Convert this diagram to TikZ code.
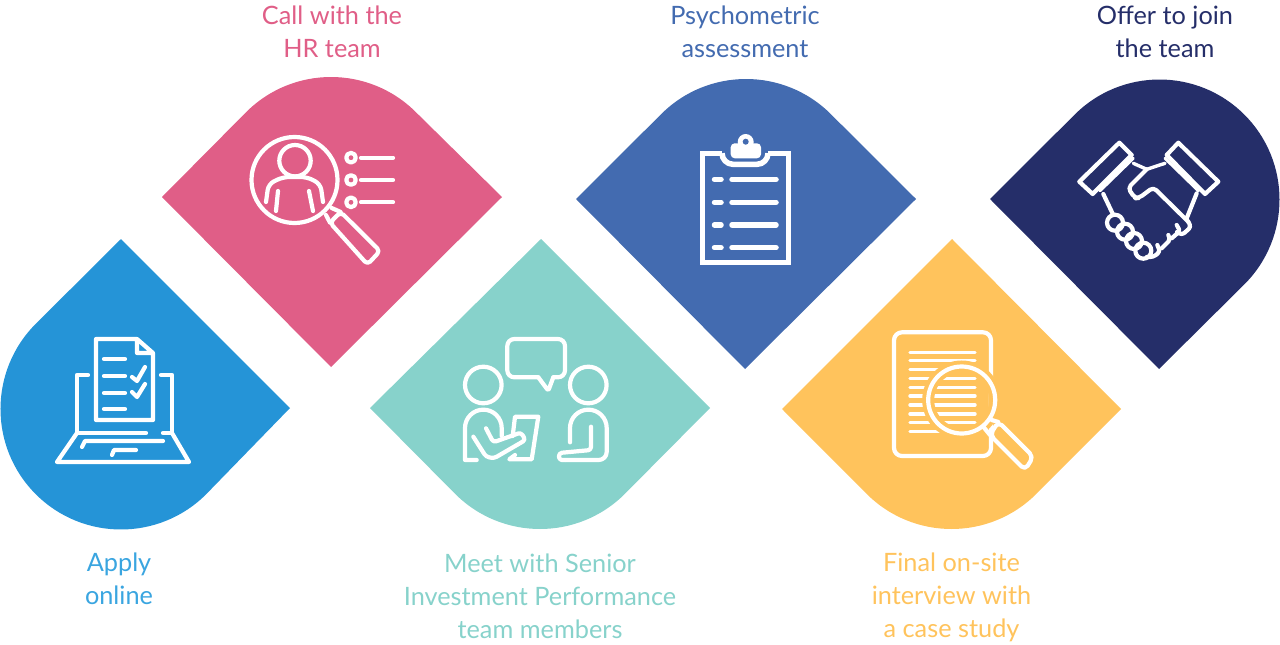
\documentclass[tikz,border=0pt]{standalone}
\usepackage{fontspec}
\setmainfont{Lato}
\definecolor{applyblue}{HTML}{2594D7}
\definecolor{applytext}{HTML}{3AA5E0}
\definecolor{callpink}{HTML}{E05E87}
\definecolor{meetteal}{HTML}{87D2CB}
\definecolor{psychblue}{HTML}{436BB0}
\definecolor{finalyellow}{HTML}{FFC35C}
\definecolor{offernavy}{HTML}{252E69}
\tikzset{
  steplabel/.style={align=center,font=\fontsize{25.3}{33}\selectfont},
  iconline/.style={draw=white,line width=4.2pt,line cap=round,line join=round},
}

\begin{document}
\begin{tikzpicture}[x=1pt,y=1pt]
\useasboundingbox (0,0) rectangle (1280,-645);
\fill[applyblue] (121,-239) -- (290,-408) -- (206.2,-494.2) arc (-45:-225:120.5) -- cycle;
\fill[callpink] (162,-197) -- (246.15,-112.15) arc (135:45:120) -- (502,-197) -- (331,-367) -- cycle;
\fill[meetteal] (370,-408) -- (541,-239) -- (710,-408) -- (624.85,-493.85) arc (-45:-135:120) -- cycle;
\fill[psychblue] (576,-199) -- (661.15,-114.15) arc (135:45:120) -- (916,-199) -- (745,-369) -- cycle;
\fill[finalyellow] (782,-409) -- (952,-239) -- (1121,-409) -- (1036.35,-493.85) arc (-45:-135:120) -- cycle;
\fill[offernavy] (990,-199) -- (1074.65,-114.65) arc (135:-45:120) -- (1159,-369) -- cycle;

\node[steplabel,text=applytext] (apply) at (119,-579) {Apply\\online};
\node[steplabel,text=callpink] (call) at (332,-32) {Call with the\\HR team};
\node[steplabel,text=meetteal] (meet) at (540,-596) {Meet with Senior\\Investment Performance\\team members};
\node[steplabel,text=psychblue] (psych) at (745,-32) {Psychometric\\assessment};
\node[steplabel,text=finalyellow] (final) at (951.5,-597) {Final on-site\\interview with\\a case study};
\node[steplabel,text=offernavy] (offer) at (1165,-32) {Offer to join\\the team};

% laptop
\draw[iconline] (137,-339) -- (96,-339) -- (96,-420) -- (153,-420) -- (153,-353) -- (137,-339) -- (137,-353) -- (153,-353);
\foreach \y in {359,376,393,409} \draw[iconline] (104,-\y) -- (125,-\y);
\draw[iconline] (132,-377) -- (137,-381) -- (145,-367);
\draw[iconline] (132,-392) -- (137,-397) -- (145,-384);
\draw[iconline] (88,-375) -- (77,-375) -- (77,-433) -- (146,-433);
\draw[iconline] (161,-375) -- (172,-375) -- (172,-433) -- (163,-433);
\draw[iconline] (77,-433) -- (57,-462) -- (189,-462) -- (172,-433);
\draw[iconline] (82,-447) -- (85,-441) -- (163,-441);
\draw[iconline] (112,-455) -- (114,-450) -- (136,-450);

% person under lens
\draw[iconline] (294.5,-180) circle (43);
\draw[iconline] (295,-160.7) circle (15.7);
\draw[iconline,rounded corners=6pt] (266,-202) -- (268.5,-184) -- (283,-177) -- (307,-177) -- (320.5,-184) -- (323,-202);
\draw[iconline] (278,-191) -- (276,-211);
\draw[iconline] (309,-191) -- (313,-211);
\draw[iconline] (326,-215) -- (330,-222.7);
\draw[iconline] (331.7,-208) -- (340.7,-212);
\draw[iconline,rounded corners=4pt] (330,-222.7) -- (340.7,-212) -- (380,-251) -- (367.5,-264.5) -- cycle;
\foreach \y in {157.7,180,202.3} {
  \draw[iconline] (351,-\y) circle (4.8);
  \draw[iconline] (361,-\y) -- (393,-\y);
}

% meeting
\draw[iconline,rounded corners=7pt] (538.3,-377.3) -- (507.3,-377.3) -- (507.3,-339) -- (565,-339) -- (565,-377.3) -- (553.3,-377.3);
\draw[iconline,rounded corners=2pt] (538.3,-377.3) -- (548.3,-390.7) -- (553.3,-377.3);
\draw[iconline] (483.3,-385) circle (18.3);
\draw[iconline] (588.3,-385) circle (18.3);
\draw[iconline] (476.7,-460) -- (465,-460) -- (465,-428) arc (180:0:18.35) -- (501.7,-436);
\draw[iconline,rounded corners=3pt] (486,-428.3) -- (493.3,-442.3) -- (521,-432.5) -- (525.5,-440) -- (494,-458.3) -- (486,-456.7) -- (473.3,-436.7);
\draw[iconline] (512.7,-436) -- (515,-416.7) -- (538.3,-416.7) -- (531.7,-459.3) -- (509.3,-459.3) -- (515,-455);
\draw[iconline] (570,-442.3) -- (570,-428) arc (180:0:18.35) -- (606.7,-452) arc (0:-90:8) -- (565,-460);
\draw[iconline,rounded corners=3pt] (565,-460) -- (559,-460) -- (559,-453) -- (591,-450) -- (591,-426.7);

% clipboard
\draw[iconline,line width=5.5pt,line cap=butt,line join=miter] (722,-153.3) -- (702.7,-153.3) -- (702.7,-262.3) -- (788.3,-262.3) -- (788.3,-153.3) -- (768,-153.3);
\draw[iconline,line width=5.5pt,line cap=butt] (722,-153.3) arc (180:270:11) -- (757,-164.3) arc (-90:0:11);
\fill[white,rounded corners=4pt] (730.7,-158.3) rectangle (761,-143.3);
\fill[white] (745.7,-142) circle (8);
\fill[psychblue] (745.7,-141.7) circle (3);
\foreach \y in {179.3,202.3,225,247.7} {
  \draw[iconline,line width=5.5pt] (714.5,-\y) -- (721,-\y);
  \draw[iconline,line width=5.5pt] (732,-\y) -- (776,-\y);
}

% page under lens
\draw[iconline,rounded corners=8pt] (894,-332.3) rectangle (991,-456);
\foreach \y in {352.3,360.7,369.3,378.3,387.3,396,405,414,422.7,431.7} \draw[iconline,line width=3.4pt] (910,-\y) -- (975,-\y);
\draw[finalyellow,line width=12pt] (961.7,-400) circle (33.5);
\draw[iconline] (961.7,-400) circle (33.5);
\draw[iconline] (983.3,-426.7) -- (990,-435);
\draw[iconline] (991.7,-420) -- (998.3,-422);
\draw[iconline,fill=finalyellow,rounded corners=5pt] (990,-435) -- (998.3,-421.7) -- (1033.3,-456.7) -- (1025,-470) -- cycle;

% handshake
\draw[iconline] (1119.3,-142.7) -- (1131.7,-155) -- (1092.7,-194) -- (1079.3,-181.7) -- cycle;
\draw[iconline] (1178.3,-142.7) -- (1166.7,-155) -- (1205,-194) -- (1218.3,-181.7) -- cycle;
\draw[iconline,line width=3pt] (1133.3,-158.3) -- (1100,-190.7);
\draw[iconline,line width=3pt] (1165,-158.3) -- (1198.3,-190.7);
\draw[iconline,line width=3.4pt] (1133.3,-163.3) -- (1146.7,-169.3) -- (1165,-163.3);
\draw[iconline,rounded corners=4pt] (1146.7,-169.3) -- (1128,-188) -- (1135,-198.3) -- (1139,-198) -- (1153.3,-187.3) -- (1188.3,-221.7);
\draw[iconline] (1196.7,-193.3) -- (1186.7,-218.3);
\draw[iconline] (1103.3,-194) -- (1113.3,-215);
\foreach \x/\y in {1115/222.7,1125/231.7,1134/241,1143.3/250.7} \draw[iconline] (\x,-\y) circle (8);
\draw[iconline,rounded corners=3pt] (1188.3,-221.7) -- (1191,-227) -- (1182,-235) -- (1177,-232);
\draw[iconline,rounded corners=2pt] (1176.7,-225) -- (1180,-231) -- (1171.7,-238.3);
\draw[iconline,rounded corners=2pt] (1168.3,-235) -- (1170,-240) -- (1161.7,-248.3);
\draw[iconline,rounded corners=3pt] (1157.3,-245) -- (1160,-251.7) -- (1153.3,-257) -- (1146.7,-257);
\end{tikzpicture}
\end{document}
